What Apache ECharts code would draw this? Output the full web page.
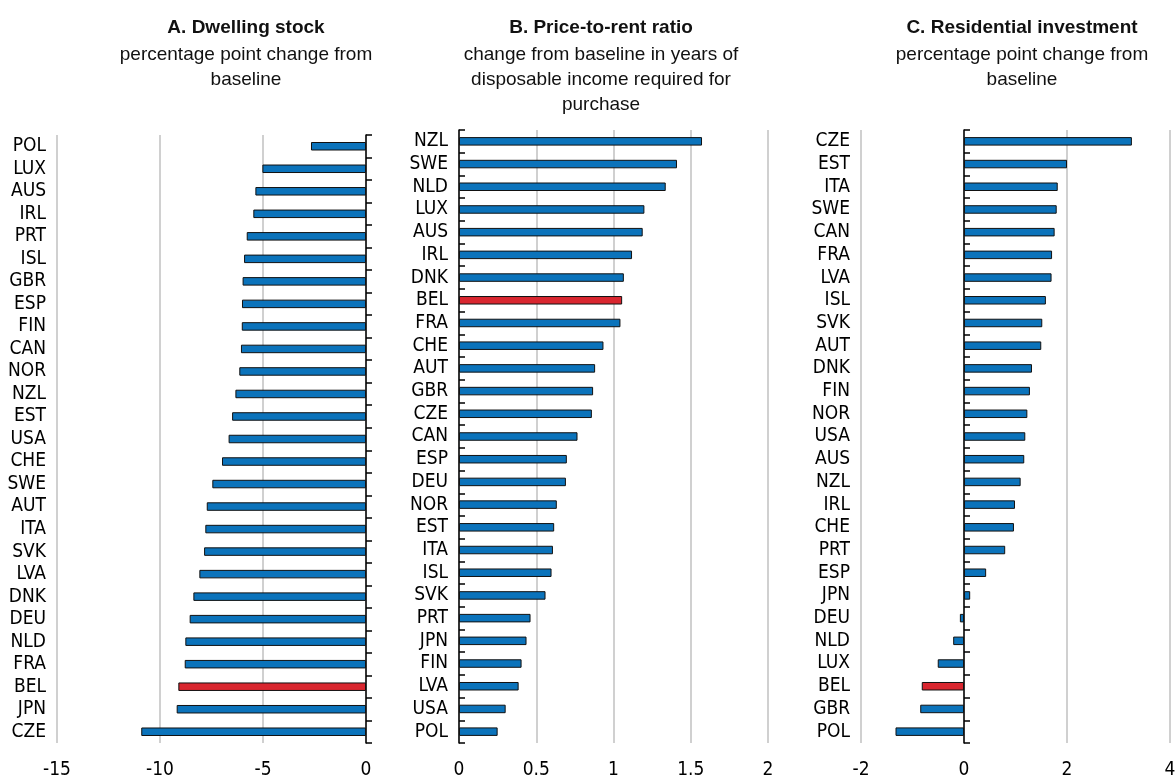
<!DOCTYPE html>
<html>
<head>
<meta charset="utf-8">
<script src="https://cdn.jsdelivr.net/npm/echarts@6/dist/echarts.min.js"></script>
<style>
html,body{margin:0;padding:0;background:#fff}
#main{width:1176px;height:776px}
</style>
</head>
<body>
<div id="main"></div>
<script>
// panel A - dwelling stock
var catsA = ['POL','LUX','AUS','IRL','PRT','ISL','GBR','ESP','FIN','CAN','NOR','NZL','EST','USA','CHE','SWE','AUT','ITA','SVK','LVA','DNK','DEU','NLD','FRA','BEL','JPN','CZE'];
var valsA = [-2.67,-5.03,-5.37,-5.47,-5.79,-5.92,-5.99,-6.02,-6.03,-6.07,-6.15,-6.34,-6.5,-6.67,-6.99,-7.46,-7.73,-7.8,-7.86,-8.09,-8.38,-8.56,-8.77,-8.8,-9.11,-9.19,-10.91];
var ticksA = [-15,-10,-5,0];

// panel B - price-to-rent
var catsB = ['NZL','SWE','NLD','LUX','AUS','IRL','DNK','BEL','FRA','CHE','AUT','GBR','CZE','CAN','ESP','DEU','NOR','EST','ITA','ISL','SVK','PRT','JPN','FIN','LVA','USA','POL'];
var valsB = [1.573,1.411,1.338,1.2,1.189,1.12,1.067,1.056,1.045,0.935,0.881,0.868,0.86,0.767,0.698,0.692,0.633,0.616,0.608,0.599,0.56,0.463,0.437,0.405,0.386,0.302,0.25];
var ticksB = [0,0.5,1,1.5,2];

// panel C - residential investment
var catsC = ['CZE','EST','ITA','SWE','CAN','FRA','LVA','ISL','SVK','AUT','DNK','FIN','NOR','USA','AUS','NZL','IRL','CHE','PRT','ESP','JPN','DEU','NLD','LUX','BEL','GBR','POL'];
var valsC = [3.26,2.0,1.82,1.8,1.76,1.71,1.7,1.59,1.52,1.5,1.32,1.28,1.23,1.19,1.17,1.1,0.99,0.97,0.8,0.43,0.12,-0.08,-0.21,-0.51,-0.82,-0.85,-1.33];
var ticksC = [-2,0,2,4];

var titles = ['A. Dwelling stock','B. Price-to-rent ratio','C. Residential investment'];
var subtitles = [
  'percentage point change from\nbaseline',
  'change from baseline in years of\ndisposable income required for\npurchase',
  'percentage point change from\nbaseline'
];

var narrow = "'DejaVu Sans Condensed'";
var blue = '#0b73bb';
var red = '#d9262f';

function barData(cats, vals){
  return vals.map(function(v, i){
    return {value: v, itemStyle: {color: cats[i] == 'BEL' ? red : blue}};
  });
}

var panels = [
  {cats: catsA, vals: valsA, ticks: ticksA, grid: {left: 57, top: 135, width: 309, height: 608}, tx: 246},
  {cats: catsB, vals: valsB, ticks: ticksB, grid: {left: 459, top: 130, width: 309, height: 613}, tx: 601},
  {cats: catsC, vals: valsC, ticks: ticksC, grid: {left: 861, top: 130, width: 309, height: 613}, tx: 1022}
];

var option = {
  animation: false,
  backgroundColor: '#fff',
  title: [], grid: [], xAxis: [], yAxis: [], series: []
};

panels.forEach(function(p, i){
  var t = p.ticks;
  var min = t[0], max = t[t.length-1];
  // shift the zero line in from the right edge of the grid
  var zeroOffset = -p.grid.width * max / (max - min);
  option.title.push({
    text: titles[i],
    subtext: subtitles[i],
    left: p.tx, top: 16, padding: 0, itemGap: 2,
    textAlign: 'center',
    textStyle: {fontFamily: 'Liberation Sans', fontSize: 19, fontWeight: 'bold', color: '#111', lineHeight: 24},
    subtextStyle: {fontFamily: 'Liberation Sans', fontSize: 19, color: '#111', lineHeight: 25}
  });
  var g = p.grid;
  g.outerBoundsMode = 'none';
  option.grid.push(g);
  option.xAxis.push({
    type: 'value', gridIndex: i,
    min: min, max: max, interval: t[1]-t[0],
    axisLine: {show: false, onZero: false},
    axisTick: {show: false},
    splitLine: {show: true, lineStyle: {color: '#d0d0d0', width: 2}},
    axisLabel: {margin: 18, fontSize: 19, fontFamily: narrow, color: '#000'}
  });
  // labels axis
  option.yAxis.push({
    type: 'category', gridIndex: i, data: p.cats, inverse: true, position: 'left',
    axisLine: {show: false, onZero: false}, axisTick: {show: false},
    axisLabel: {margin: 11, fontSize: 19, interval: 0, fontFamily: narrow, color: '#000'}
  });
  // axis line at zero with ticks
  option.yAxis.push({
    type: 'category', gridIndex: i, data: p.cats, inverse: true, position: 'right',
    offset: zeroOffset,
    axisLine: {show: true, onZero: false, lineStyle: {color: '#000', width: 1.5}},
    axisTick: {show: true, length: 6, lineStyle: {color: '#000', width: 1.5}},
    axisLabel: {show: false}
  });
  option.series.push({
    type: 'bar', xAxisIndex: i, yAxisIndex: i*2,
    barWidth: 8.5,
    itemStyle: {borderColor: '#111', borderWidth: 1},
    data: barData(p.cats, p.vals)
  });
});

var chart = echarts.init(document.getElementById('main'));
chart.setOption(option);
</script>
</body>
</html>
